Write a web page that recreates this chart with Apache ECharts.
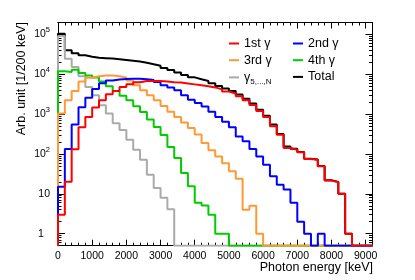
<!DOCTYPE html>
<html><head><meta charset="utf-8">
<script src="https://cdn.jsdelivr.net/npm/echarts@6/dist/echarts.min.js"></script>
<style>html,body{margin:0;padding:0;background:#fff}#c{width:415px;height:280px}</style>
</head><body><div id="c"></div>
<script>
// bin low edges (keV), bin width 200 keV
const binLowEdges = [0,200,400,600,800,1000,1200,1400,1600,1800,2000,2200,2400,2600,2800,3000,3200,3400,3600,3800,4000,4200,4400,4600,4800,5000,5200,5400,5600,5800,6000,6200,6400,6600,6800,7000,7200,7400,7600,7800,8000,8200,8400,8600,8800,9000];
const binWidth = 200;
const xMax = 9200;

const gamma1 = [3,20,131,470,855,1470,2240,3160,3820,4800,5600,6300,6800,6800,6800,6600,6300,6200,5900,5600,5300,5000,4700,4200,3700,3300,2800,2240,1700,1200,855,500,303,141,128,110,75,72,49,21.5,19.6,10,1,0,0,0];
const gamma2 = [15,133,550,1500,2600,4300,6000,7000,7400,7600,7700,7700,7500,7200,6400,5300,4700,4000,3000,2300,1900,1550,1150,850,650,470,277,208,133,87,54,27.6,17,12.8,6,2,1,0,1,0,0,0,0,0,0,0];
const gamma3 = [1040,2240,3800,6600,8200,8900,9400,9400,8900,8300,7000,5300,4000,3000,2240,1600,1150,850,620,450,310,190,125,87,59,37,24,4,5,1,0,0,0,0,0,0,0,0,0,0,0,0,0,0,0,0];
const gamma4 = [12000,11500,13000,10800,9400,8300,6600,5000,3800,2900,2240,1580,1140,740,480,300,150,79,33.5,15.5,6,5.1,3,1,1,0,0,0,0,0,0,0,0,0,0,0,0,0,0,0,0,0,0,0,0,0];
const gamma5N = [92000,24700,15200,8900,4800,3000,1680,1040,590,400,228,128,72,30,14,8,4.1,0,0,0,0,0,0,0,0,0,0,0,0,0,0,0,0,0,0,0,0,0,0,0,0,0,0,0,0,0];
const total = [105000,40000,34000,30000,27500,26000,25500,25000,24000,23000,22000,21000,19500,18000,16500,14500,12800,11200,9600,8400,7500,6800,6000,5100,4400,3800,3100,2450,1850,1300,910,550,320,155,135,113,76,73,50,22,20,10,1,0,0,0];

const xTickLabels = [0,1000,2000,3000,4000,5000,6000,7000,8000,9000];
const yTickLabels = [1,10,100,1000,10000,100000];
const yMin = 0.5, yMax = 2e5;

const colors = {'1st γ':'#ff0000','2nd γ':'#0000ff','3rd γ':'#ff9933','4th γ':'#00cc00','γ5,...,N':'#aaaaaa','Total':'#000000'};
const values = {'1st γ':gamma1,'2nd γ':gamma2,'3rd γ':gamma3,'4th γ':gamma4,'γ5,...,N':gamma5N,'Total':total};

function steps(vals) {
  const pts = [[binLowEdges[0], yMin]];
  for (let i = 0; i < vals.length; i++) pts.push([binLowEdges[i], vals[i] > 0 ? vals[i] : yMin]);
  pts.push([binLowEdges[vals.length - 1] + binWidth, yMin]);
  return pts;
}

const xMinor = [];
for (let v = 200; v < xMax; v += 200) if (v % 1000 !== 0) xMinor.push(v);
const yMinor = [];
for (let e = -1; e <= 5; e++) for (let m = 2; m <= 9; m++) {
  const v = +(m * Math.pow(10, e)).toPrecision(6);
  if (v >= yMin && v <= yMax) yMinor.push(v);
}

const FONT = '"Liberation Sans", Arial, sans-serif';

function xAx(pos, vals, len, withLabels) {
  return {
    type: 'value', min: 0, max: xMax, position: pos,
    axisLine: {show: true, onZero: false, lineStyle: {color: '#000', width: 1}},
    axisTick: {show: true, inside: true, length: len, customValues: vals, lineStyle: {color: '#000', width: 1}},
    axisLabel: withLabels ? {show: true, customValues: xTickLabels, margin: 5, fontSize: 10.5, color: '#000', fontFamily: FONT,
      formatter: function (v) { return String(Math.round(v)); }} : {show: false},
    splitLine: {show: false}
  };
}
function yAx(pos, vals, len, withLabels) {
  return {
    type: 'log', logBase: 10, min: yMin, max: yMax, position: pos,
    axisLine: {show: true, onZero: false, lineStyle: {color: '#000', width: 1}},
    axisTick: {show: true, inside: true, length: len, customValues: vals, lineStyle: {color: '#000', width: 1}},
    axisLabel: withLabels ? {
      show: true, customValues: yTickLabels, margin: 8, fontSize: 10.5, color: '#000', fontFamily: FONT,
      formatter: function (v) {
        const e = Math.round(Math.log10(v));
        if (e === 0) return '{one|1}';
        if (e === 1) return '10';
        return '10{sup|' + e + '}';
      },
      rich: {
        one: {width: 12, align: 'left', fontSize: 10.5, fontFamily: FONT},
        sup: {fontSize: 7.5, fontFamily: FONT, padding: [0, 0, 9, 0]}
      }
    } : {show: false},
    splitLine: {show: false}
  };
}

function legendFmt(name) {
  if (name === 'γ5,...,N') return '{g|γ}{sub|5,...,N}';
  return name;
}
function legendDef(left, data) {
  return {
    data: data, orient: 'vertical', left: left, top: 31, itemWidth: 10, itemHeight: 2, itemGap: 1.7,
    icon: 'rect', selectedMode: false, formatter: legendFmt,
    textStyle: {fontSize: 12.5, color: '#000', lineHeight: 15, fontFamily: FONT,
      rich: {g: {fontSize: 12.5, lineHeight: 15, fontFamily: FONT}, sub: {fontSize: 8, lineHeight: 8, fontFamily: FONT, padding: [8, 0, 0, 0]}}}
  };
}

const drawOrder = ['Total','γ5,...,N','4th γ','3rd γ','2nd γ','1st γ'];
const series = drawOrder.map(n => ({
  name: n, type: 'line', step: 'end', showSymbol: false, symbol: 'none',
  xAxisIndex: 0, yAxisIndex: 0, clip: true,
  itemStyle: {color: colors[n]},
  lineStyle: {color: colors[n], width: 2},
  data: steps(values[n])
}));

const chart = echarts.init(document.getElementById('c'), null, {renderer: 'canvas'});
chart.setOption({
  animation: false,
  backgroundColor: '#fff',
  textStyle: {fontFamily: FONT},
  grid: {left: 58, top: 22.5, width: 314.5, height: 223.2},
  xAxis: [xAx('bottom', xTickLabels, 6, true), xAx('bottom', xMinor, 3, false), xAx('top', xTickLabels, 6, false), xAx('top', xMinor, 3, false)],
  yAxis: [yAx('left', yTickLabels, 7, true), yAx('left', yMinor, 3.5, false), yAx('right', yTickLabels, 7, false), yAx('right', yMinor, 3.5, false)],
  legend: [legendDef(224, ['1st γ','3rd γ','γ5,...,N']), legendDef(288, ['2nd γ','4th γ','Total'])],
  graphic: [
    {type: 'text', x: 22, y: 22, rotation: Math.PI / 2,
     style: {text: 'Arb. unit [1/200 keV]', font: '12.5px ' + FONT, fill: '#000', align: 'right', verticalAlign: 'middle', textAlign: 'right', textVerticalAlign: 'middle'}},
    {type: 'text', x: 373, y: 268,
     style: {text: 'Photon energy [keV]', font: '12.5px ' + FONT, fill: '#000', align: 'right', verticalAlign: 'middle', textAlign: 'right', textVerticalAlign: 'middle'}}
  ],
  series: series
});
</script></body></html>
